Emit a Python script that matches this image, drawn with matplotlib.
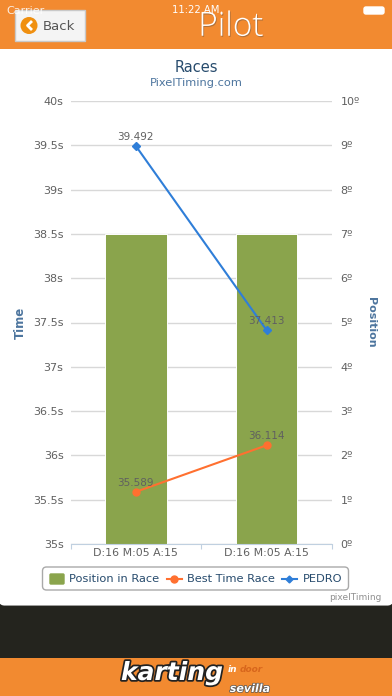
import matplotlib
matplotlib.use("Agg")
import matplotlib.pyplot as plt
import matplotlib.patheffects as pe
from matplotlib.patches import Rectangle, FancyBboxPatch, Circle
from matplotlib.lines import Line2D

categories = ["D:16 M:05 A:15", "D:16 M:05 A:15"]
position_in_race = [7, 7]
best_time_race = [35.589, 36.114]
pedro = [39.492, 37.413]
time_ticks = [35, 35.5, 36, 36.5, 37, 37.5, 38, 38.5, 39, 39.5, 40]
time_labels = ["35s", "35.5s", "36s", "36.5s", "37s", "37.5s", "38s", "38.5s", "39s", "39.5s", "40s"]
pos_ticks = list(range(0, 11))
pos_labels = [f"{p}º" for p in pos_ticks]

W, H = 392, 696
ORANGE = "#F28A30"
plt.rcParams["font.family"] = "DejaVu Sans"
fig = plt.figure(figsize=(W / 100, H / 100), dpi=100, facecolor="#24241E")

# page furniture in pixel coordinates
bg = fig.add_axes([0, 0, 1, 1], zorder=0)
bg.set_xlim(0, W); bg.set_ylim(H, 0); bg.axis("off")
bg.add_patch(FancyBboxPatch((4, 52), W - 8, 548, boxstyle="round,pad=0,rounding_size=0", fc="white", ec="white", lw=8, joinstyle="round"))
bg.add_patch(Rectangle((0, 0), W, 48.5, fc=ORANGE, ec="none"))
bg.add_patch(Rectangle((0, 658), W, 38, fc=ORANGE, ec="none"))
bg.text(6, 10.5, "Carrier", color="white", fontsize=8, va="center", alpha=.85)
bg.text(196, 10, "11:22 AM", color="white", fontsize=7.2, ha="center", va="center")
bg.add_patch(FancyBboxPatch((364, 7), 20, 7, boxstyle="round,pad=0,rounding_size=2", fc="white", ec="white", lw=1))
bg.text(231, 27, "Pilot", color="white", fontsize=24, ha="center", va="center", family="Open Sans", fontweight="light",
        path_effects=[pe.withSimplePatchShadow(offset=(.6, -.8), alpha=.4)])
bg.add_patch(Rectangle((15, 9.5), 70, 31, fc="#F4F4F4", ec="#C9C9C9", lw=1))
bg.add_patch(Circle((29, 25.5), 8.5, fc="#F09010", ec="none"))
bg.add_line(Line2D([31, 27.5, 31], [22, 25.5, 29], color="white", lw=2))
bg.text(59, 26, "Back", color="#555555", fontsize=9.5, ha="center", va="center")
bg.text(196, 67, "Races", color="#274B6D", fontsize=10.5, ha="center", va="center")
bg.text(196, 83, "PixelTiming.com", color="#4D759E", fontsize=8.2, ha="center", va="center")
bg.text(382, 597.5, "pixelTiming", color="#909090", fontsize=6.5, ha="right", va="center")
bg.add_patch(FancyBboxPatch((42.5, 567), 306, 23, boxstyle="round,pad=0,rounding_size=4", fc="white", ec="#A9A9A9", lw=1))
bg.text(172, 673, "karting", color="white", fontsize=18, fontweight="bold", style="italic", ha="center", va="center",
        path_effects=[pe.withStroke(linewidth=2.5, foreground="#222222")])
bg.text(228, 669, "in", color="white", fontsize=6.5, fontweight="bold", style="italic", ha="left", va="center")
bg.text(240, 669, "door", color="#D8661C", fontsize=6.5, fontweight="bold", style="italic", ha="left", va="center")
bg.text(250, 689, "sevilla", color="white", fontsize=8, fontweight="bold", style="italic", ha="center", va="center",
        path_effects=[pe.withStroke(linewidth=1, foreground="#555555")])

# chart axes
L, R, T, B = 70.5, 332, 101, 544
rect = [L / W, 1 - B / H, (R - L) / W, (B - T) / H]
ax2 = fig.add_axes(rect, zorder=1)
ax = fig.add_axes(rect, zorder=2)
ax.patch.set_visible(False); ax2.patch.set_visible(False)
x = [0, 1]
for a in (ax, ax2):
    a.set_xlim(-.5, 1.5)
    for s in a.spines.values():
        s.set_visible(False)

ax2.set_ylim(0, 10)
ax2.set_yticks(pos_ticks, pos_labels)
ax2.yaxis.tick_right()
ax2.grid(axis="y", color="#D8D8D8", lw=1)
ax2.set_axisbelow(True)
ax2.tick_params(axis="y", length=0, pad=6, labelsize=8, labelcolor="#606060")
ax2.set_xticks([])
bars = ax2.bar(x, position_in_race, width=.47, color="#8AA44C", edgecolor="#FFFFFF", linewidth=.7, label="Position in Race")
ax2.yaxis.set_label_position("right")
ax2.set_ylabel("Position", color="#4D759E", fontsize=8, fontweight="bold", rotation=270, labelpad=10)
ax2.yaxis.set_label_coords((376 - L) / (R - L), 0.5)

ax.set_ylim(35, 40)
ax.set_yticks(time_ticks, time_labels)
ax.tick_params(axis="y", length=0, pad=5, labelsize=8, labelcolor="#606060")
ax.set_ylabel("Time", color="#4D759E", fontsize=8.5, fontweight="bold")
ax.yaxis.set_label_coords((27 - L) / (R - L), 0.5)
ax.set_xticks(x, categories)
ax.set_xticks([-.5, .5, 1.5], minor=True)
ax.tick_params(axis="x", which="major", length=0, pad=3, labelsize=7.9, labelcolor="#606060")
ax.tick_params(axis="x", which="minor", length=3.5, width=.8, color="#C0D0E0")
ax.spines["bottom"].set_visible(True)
ax.spines["bottom"].set_color("#C0D0E0")

l1, = ax.plot(x, best_time_race, color="#FF7030", lw=1.5, marker="o", ms=5, label="Best Time Race")
l2, = ax.plot(x, pedro, color="#2F7ED8", lw=1.5, marker="D", ms=4, label="PEDRO")
for s in (best_time_race, pedro):
    for i, v in zip(x, s):
        ax.annotate(f"{v:.3f}", (i, v), xytext=(0, 3), textcoords="offset points", ha="center", va="bottom",
                    fontsize=7.5, color="#606060", zorder=5)

# legend entries placed by hand inside the frame
bg_top = fig.add_axes([0, 0, 1, 1], zorder=3)
bg_top.set_xlim(0, W); bg_top.set_ylim(H, 0); bg_top.axis("off")
bg_top.add_patch(FancyBboxPatch((50, 574), 14, 10, boxstyle="round,pad=0,rounding_size=1", fc="#8AA44C", ec="#8AA44C", lw=1))
bg_top.text(69.5, 579.5, "Position in Race", color="#274B6D", fontsize=8.2, va="center")
bg_top.add_line(Line2D([167, 182], [579, 579], color="#FF7030", lw=1.5))
bg_top.add_line(Line2D([174.5], [579], color="#FF7030", marker="o", ms=5))
bg_top.text(187, 579.5, "Best Time Race", color="#274B6D", fontsize=8.2, va="center")
bg_top.add_line(Line2D([282, 297], [579, 579], color="#2F7ED8", lw=1.5))
bg_top.add_line(Line2D([289.5], [579], color="#2F7ED8", marker="D", ms=3.5))
bg_top.text(302.5, 579.5, "PEDRO", color="#274B6D", fontsize=8.2, va="center")

fig.savefig("out.png", dpi=100, facecolor=fig.get_facecolor())
